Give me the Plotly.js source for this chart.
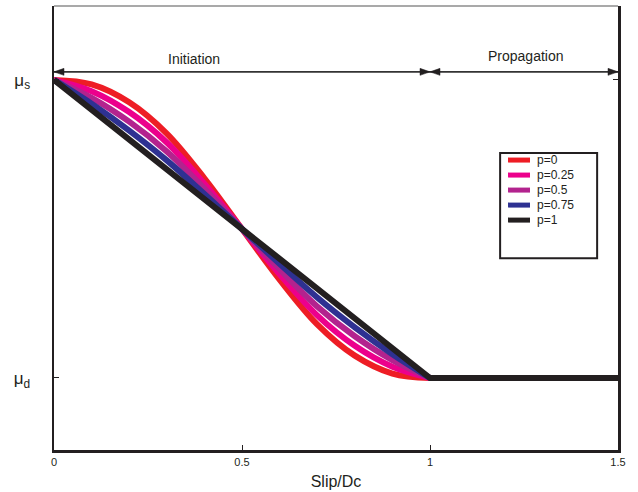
<!DOCTYPE html>
<html>
<head>
<meta charset="utf-8">
<script src="https://cdn.plot.ly/plotly-3.0.1.min.js"></script>
<style>html,body{margin:0;padding:0;background:#fff;}#chart{width:638px;height:492px;}</style>
</head>
<body>
<div id="chart"></div>
<script>
// Slip normalised by Dc
const slip = [0, 0.1, 0.2, 0.3, 0.4, 0.5, 0.6, 0.7, 0.8, 0.9, 1.0];
const slipLinear = [0, 0.1, 0.2, 0.3, 0.4, 0.5, 0.6, 0.7, 0.8, 0.9, 1.0, 1.5];
// friction, normalised: mu_d = 0, mu_s = 1
const mu_p0    = [1, 0.985, 0.925, 0.82, 0.67, 0.5, 0.33, 0.18, 0.075, 0.015, 0];
const mu_p025  = [1, 0.962, 0.892, 0.79, 0.652, 0.5, 0.348, 0.21, 0.108, 0.038, 0];
const mu_p05   = [1, 0.94, 0.86, 0.76, 0.635, 0.5, 0.365, 0.24, 0.14, 0.06, 0];
const mu_p075  = [1, 0.92, 0.83, 0.73, 0.617, 0.5, 0.383, 0.27, 0.17, 0.08, 0];
const mu_p1    = [1, 0.9, 0.8, 0.7, 0.6, 0.5, 0.4, 0.3, 0.2, 0.1, 0, 0];
const seriesNames = ["p=0", "p=0.25", "p=0.5", "p=0.75", "p=1"];
const colors = ["#ee1d25", "#ec008c", "#b3238e", "#2e3192", "#231f20"];
const xTicks = [0, 0.5, 1, 1.5];
const xTickText = ["0", "0.5", "1", "1.5"];
const yTicks = [0, 1];
const yTickText = ["μ<sub>d</sub>", "μ<sub>s</sub>"];
const phaseBounds = [0, 1, 1.5];
const phaseNames = ["Initiation", "Propagation"];
const phaseLevel = 1.027;

const ys = [mu_p0, mu_p025, mu_p05, mu_p075, mu_p1];
const xs = [slip, slip, slip, slip, slipLinear];
const traces = ys.map((y, i) => ({
  x: xs[i], y: y, name: seriesNames[i], type: "scatter", mode: "lines",
  line: {color: colors[i], width: 6, shape: i === 4 ? "linear" : "spline", smoothing: 1},
  hoverinfo: "skip", showlegend: false
}));

const font = {family: "Liberation Sans, Arial, sans-serif", color: "#231f20"};
const ink = "#231f20";
const shapes = [
  {type: "line", xref: "paper", yref: "paper", x0: 0, x1: 1, y0: 1, y1: 1, line: {color: "#555", width: 1.2}},
  {type: "rect", xref: "paper", yref: "paper", x0: 0.791, x1: 0.963, y0: 0.432, y1: 0.669, line: {color: ink, width: 2}, fillcolor: "rgba(0,0,0,0)"}
];
const annotations = [];

// phase arrows
for (let k = 0; k < phaseNames.length; k++) {
  const a = phaseBounds[k], b = phaseBounds[k + 1];
  shapes.push({type: "line", xref: "x", yref: "y", x0: a, x1: b, y0: phaseLevel, y1: phaseLevel, line: {color: "#333", width: 1.6}});
  shapes.push({type: "path", xref: "x", yref: "y", xsizemode: "pixel", ysizemode: "pixel", xanchor: a, yanchor: phaseLevel,
    path: "M 0 0 L 10 -3.5 L 10 3.5 Z", fillcolor: ink, line: {color: ink, width: 0.5}});
  shapes.push({type: "path", xref: "x", yref: "y", xsizemode: "pixel", ysizemode: "pixel", xanchor: b, yanchor: phaseLevel,
    path: "M 0 0 L -10 -3.5 L -10 3.5 Z", fillcolor: ink, line: {color: ink, width: 0.5}});
}
annotations.push({x: 0.373, y: phaseLevel, xref: "x", yref: "y", yshift: 13, showarrow: false, text: phaseNames[0],
  font: {family: font.family, size: 14, color: ink}});
annotations.push({x: 1.256, y: phaseLevel, xref: "x", yref: "y", yshift: 16, showarrow: false, text: phaseNames[1],
  font: {family: font.family, size: 14, color: ink}});

// legend (drawn manually inside the box)
const legX0 = 0.805, legX1 = 0.844, legTextX = 0.853, legTop = 0.653, legStep = 0.0338;
seriesNames.forEach((name, i) => {
  const yy = legTop - i * legStep;
  shapes.push({type: "line", xref: "paper", yref: "paper", x0: legX0, x1: legX1, y0: yy, y1: yy, line: {color: colors[i], width: 5}});
  annotations.push({x: legTextX, y: yy, xref: "paper", yref: "paper", xanchor: "left", yanchor: "middle", showarrow: false,
    text: name, font: {family: font.family, size: 12, color: ink}});
});

const layout = {
  width: 638, height: 492,
  margin: {l: 54, r: 20, t: 6, b: 42},
  paper_bgcolor: "#fff", plot_bgcolor: "#fff",
  font: font,
  showlegend: false,
  xaxis: {
    range: [0, 1.5], tickvals: xTicks, ticktext: xTickText,
    ticks: "inside", ticklen: 5, tickwidth: 1, tickcolor: ink,
    showline: true, linecolor: ink, linewidth: 2.5,
    showgrid: false, zeroline: false, mirror: false,
    tickfont: {family: font.family, size: 11, color: ink},
    title: {text: "Slip/Dc", font: {family: font.family, size: 16, color: ink}, standoff: 9}
  },
  yaxis: {
    range: [-0.2416, 1.248], tickvals: yTicks, ticktext: yTickText,
    ticks: "inside", ticklen: 5, tickwidth: 1, tickcolor: ink,
    showline: true, linecolor: ink, linewidth: 2.5, mirror: "ticks",
    showgrid: false, zeroline: false, ticklabelstandoff: 18,
    tickfont: {family: font.family, size: 17, color: ink}
  },
  shapes: shapes,
  annotations: annotations
};
Plotly.newPlot("chart", traces, layout, {displayModeBar: false, staticPlot: true});
</script>
</body>
</html>
